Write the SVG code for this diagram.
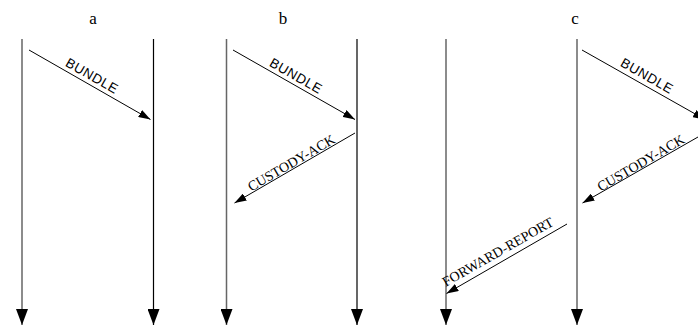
<svg xmlns="http://www.w3.org/2000/svg" width="698" height="325" viewBox="0 0 698 325">
<style>
.life{stroke:#666;stroke-width:1.5;fill:none}
.lifeb{stroke:#000;stroke-width:1.2;fill:none}
.msg{stroke:#000;stroke-width:1;fill:none;marker-end:url(#ah)}
.title{font-family:"Liberation Serif",serif;font-size:17px;fill:#000;text-anchor:middle}
.sans{font-family:"Liberation Sans",Arial,sans-serif;font-size:13.5px;fill:#000;text-anchor:middle;letter-spacing:0.6px}
.serif{font-family:"Liberation Serif",serif;font-size:14px;fill:#000;text-anchor:middle}
</style>
<defs>
<marker id="ah" markerUnits="userSpaceOnUse" markerWidth="12" markerHeight="8" refX="12" refY="4" orient="auto" viewBox="0 0 12 8">
<path d="M0,0 L12,4 L0,8 Z" fill="#000"/>
</marker>
<marker id="vh" markerUnits="userSpaceOnUse" markerWidth="16" markerHeight="12" refX="16" refY="6" orient="auto" viewBox="0 0 16 12">
<path d="M0,0 L16,6 L0,12 Z" fill="#000"/>
</marker>
</defs>
<g id="titles">
<text class="title" x="93" y="24">a</text>
<text class="title" x="283" y="24">b</text>
<text class="title" x="575" y="24">c</text>
</g>
<g id="lifelines">
<line id="a-left" class="life" x1="22" y1="39" x2="22" y2="325" marker-end="url(#vh)"/>
<line id="a-right" class="lifeb" x1="153.5" y1="39" x2="153.5" y2="325" marker-end="url(#vh)"/>
<line id="b-left" class="life" x1="226.5" y1="39" x2="226.5" y2="325" marker-end="url(#vh)"/>
<line id="b-right" class="lifeb" x1="357" y1="39" x2="357" y2="325" marker-end="url(#vh)"/>
<line id="c-0" class="life" x1="446" y1="39" x2="446" y2="325" marker-end="url(#vh)"/>
<line id="c-left" class="life" x1="577" y1="39" x2="577" y2="325" marker-end="url(#vh)"/>
<line id="c-right" class="life" x1="708" y1="39" x2="708" y2="325" marker-end="url(#vh)"/>
</g>
<g id="connectors">
<line class="msg" x1="29" y1="50" x2="150.5" y2="119.5"/>
<line class="msg" x1="233" y1="50" x2="355" y2="119.5"/>
<line class="msg" x1="355" y1="133" x2="234.5" y2="203"/>
<line class="msg" x1="582" y1="50" x2="705" y2="119.5"/>
<line class="msg" x1="705" y1="133" x2="582.5" y2="203"/>
<line class="msg" x1="567" y1="224" x2="446.5" y2="293.5"/>
</g>
<g id="labels">
<text class="sans" transform="translate(92,76) rotate(29.7)" x="0" y="4.5">BUNDLE</text>
<text class="sans" transform="translate(296,76) rotate(29.7)" x="0" y="4.5">BUNDLE</text>
<text class="sans" transform="translate(647,76) rotate(29.5)" x="0" y="4.5">BUNDLE</text>
<text class="serif" transform="translate(291.5,163) rotate(-30.3)" x="0" y="4.5">CUSTODY-ACK</text>
<text class="serif" transform="translate(641,163) rotate(-30.3)" x="0" y="4.5">CUSTODY-ACK</text>
<text class="serif" transform="translate(498,252) rotate(-29.7)" x="0" y="4.5">FORWARD-REPORT</text>
</g>
</svg>
